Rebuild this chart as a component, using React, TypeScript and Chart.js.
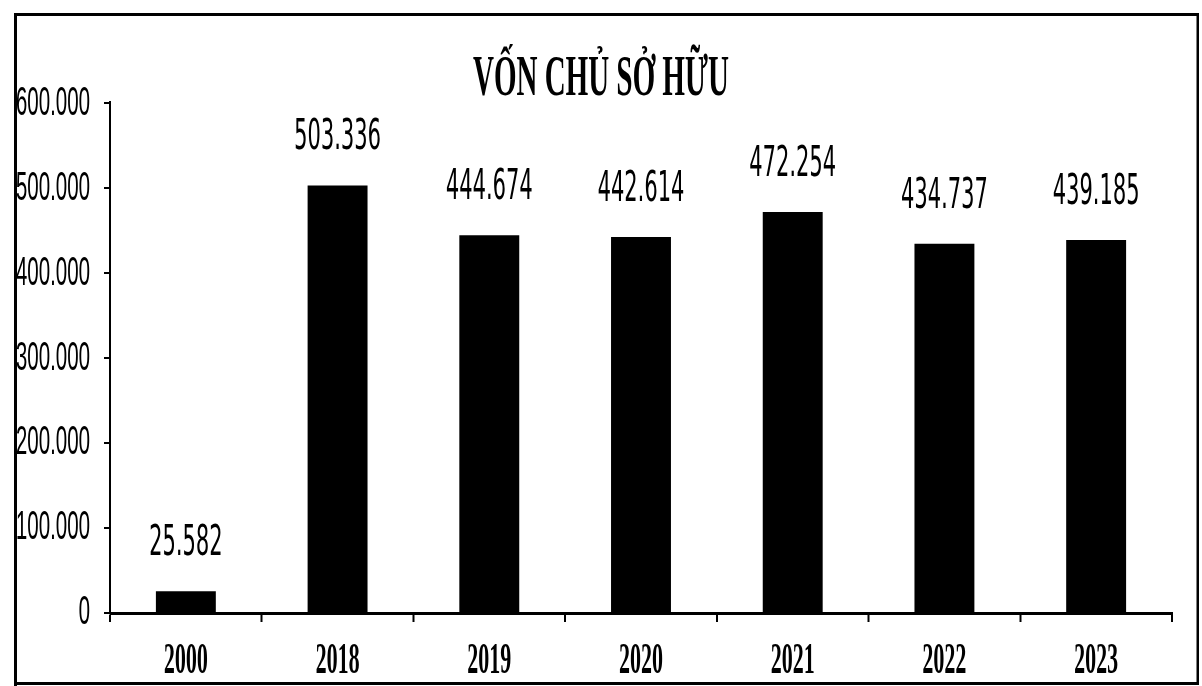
import { useEffect, useRef } from 'react';
import { Chart, registerables } from 'chart.js';

Chart.register(...registerables);

// ---- data ----
const categories: string[] = ['2000', '2018', '2019', '2020', '2021', '2022', '2023'];
const equityValues: number[] = [25582, 503336, 444674, 442614, 472254, 434737, 439185];
const yTickMax = 600000;
const yTickStep = 100000;
const chartTitle = 'VỐN CHỦ SỞ HỮU';

// the reference is horizontally condensed: draw at double width, display at half width
const CANVAS_W = 2404;
const CANVAS_H = 686;

const fmt = (v: number) =>
  Math.round(v)
    .toString()
    .replace(/\B(?=(\d{3})+(?!\d))/g, '.');

export default function App() {
  const ref = useRef<HTMLCanvasElement>(null);

  useEffect(() => {
    document.body.style.margin = '0';
    document.body.style.overflow = 'hidden';
    const canvas = ref.current;
    if (!canvas) return;

    const valueLabels = {
      id: 'valueLabels',
      afterDatasetsDraw(chart: any) {
        const ctx = chart.ctx;
        const meta = chart.getDatasetMeta(0);
        const data = chart.data.datasets[0].data as number[];
        ctx.save();
        ctx.fillStyle = '#000';
        ctx.font = '42px "DejaVu Sans"';
        ctx.textAlign = 'center';
        ctx.textBaseline = 'alphabetic';
        meta.data.forEach((bar: any, i: number) => {
          ctx.fillText(fmt(data[i]), bar.x, bar.y - 36);
        });
        ctx.restore();
      },
    };

    const frame = {
      id: 'frame',
      afterDraw(chart: any) {
        const ctx = chart.ctx;
        ctx.save();
        ctx.fillStyle = '#000';
        ctx.fillRect(28, 13, 2370, 3); // top
        ctx.fillRect(28, 13, 6, 673); // left
        ctx.fillRect(2393, 13, 5, 671); // right
        ctx.fillRect(28, 682, 2370, 3); // bottom
        ctx.restore();
      },
    };

    const chart = new Chart(canvas, {
      type: 'bar',
      data: {
        labels: categories,
        datasets: [
          {
            label: chartTitle,
            data: equityValues,
            backgroundColor: '#000',
            borderWidth: 0,
            barPercentage: 0.395,
            categoryPercentage: 1,
            yAxisID: 'y',
          },
        ],
      },
      options: {
        responsive: false,
        animation: false,
        devicePixelRatio: 1,
        layout: { padding: { left: 0, right: 0, top: 0, bottom: 0 } },
        plugins: {
          legend: { display: false },
          tooltip: { enabled: false },
          title: {
            display: true,
            text: chartTitle,
            color: '#000',
            font: { family: '"Liberation Serif"', size: 58, weight: 'bold', lineHeight: 0.8 },
            padding: { top: 57, bottom: 0 },
          },
        },
        scales: {
          x: {
            type: 'category',
            offset: true,
            afterFit(scale: any) {
              scale.height = 73;
            },
            grid: {
              offset: true,
              drawOnChartArea: false,
              drawTicks: true,
              tickLength: 9,
              color: '#000',
              lineWidth: 4,
            },
            border: { display: true, color: '#000', width: 3 },
            ticks: {
              color: '#000',
              padding: 18,
              font: { family: '"Liberation Serif"', size: 44, weight: 'bold', lineHeight: 1 },
            },
          },
          y: {
            min: 0,
            max: yTickMax,
            afterFit(scale: any) {
              scale.width = 220;
            },
            grid: {
              drawOnChartArea: false,
              drawTicks: true,
              tickLength: 12,
              color: '#000',
              lineWidth: 2,
            },
            border: { display: true, color: '#000', width: 4 },
            ticks: {
              stepSize: yTickStep,
              color: '#000',
              padding: 28,
              font: { family: '"Liberation Sans"', size: 41, lineHeight: 1 },
              callback: (v: any) => fmt(Number(v)),
            },
          },
          spacer: {
            type: 'linear',
            position: 'right',
            display: true,
            afterFit(scale: any) {
              scale.width = 60;
            },
            grid: { display: false, drawTicks: false },
            border: { display: false },
            ticks: { display: false },
          },
        },
      },
      plugins: [valueLabels, frame],
    });

    return () => chart.destroy();
  }, []);

  return (
    <canvas
      ref={ref}
      width={CANVAS_W}
      height={CANVAS_H}
      style={{ width: '1202px', height: '686px', display: 'block' }}
    />
  );
}
